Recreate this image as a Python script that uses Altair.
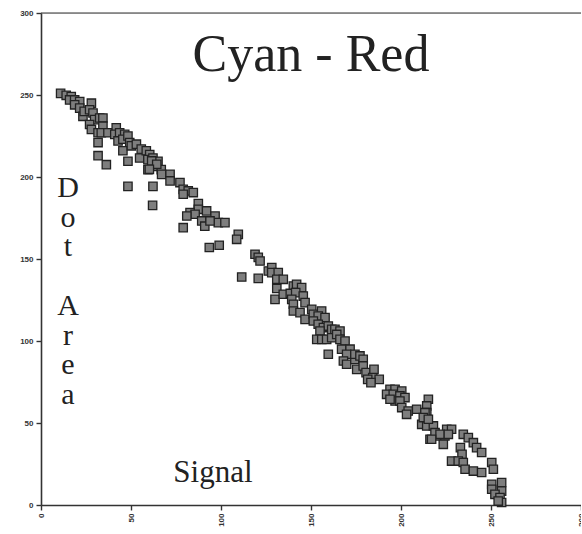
import altair as alt
import pandas as pd

signal = [10.9,14,16.8,15.9,18.7,21.5,18.7,21.5,23.3,24,28,27,28.9,29.8,27,28,32.6,34.4,34.4,31.7,33.5,37.2,31.7,31.7,36.3,
          41.8,41,43.7,42.8,46.5,45.5,48.3,49.3,45.5,48.3,50.2,53,55.7,54.8,58.5,60.4,59.4,62.2,65,63.2,59.4,66.8,48.3,62.2,
          61.5,64.3,60.2,67,71.7,71.7,77.2,79,81.8,84.6,79,62,87.4,87.4,82.8,85.6,81,92,89.3,91,96.7,98.5,102.2,93.9,79,
          109.6,108.7,93.5,99,118.9,120.7,121.7,126.3,111.5,120.7,
          128.2,128.2,131.8,131,134.6,131,130,134.6,140.2,142,144.8,138.5,141.5,145.7,139.3,140.2,146.7,140.2,143.9,146.7,
          150.4,151.3,155.9,154,157.8,151.3,154,156.9,159.6,161.5,163.3,166.1,155,153.2,156,158.7,161.5,164.3,166.1,168.9,
          159.6,167,171.7,169.8,168,169.8,174.4,175.4,
          174.4,177.2,179,179,180.6,185,184.3,187.9,181.5,183.3,193.9,196.7,192,195.7,200.4,199.4,202.2,196.7,193.9,199.4,
          200.4,204,208.7,203.1,215.2,214.3,214.3,214.3,211.5,214.3,218,216.1,220.7,224.4,225.4,
          213.3,212.4,215.2,218.9,221.7,228.1,226.3,217,223.5,234.6,237.4,240.2,242,244.8,233,233.9,228.1,231.8,234.6,235.6,
          240.2,244.8,250.4,251.3,250.4,250.4,255.9,255.9,252.2,255,255.9,254]
dot_area = [251,249.8,249,247,247,246,244,242,237,240,245,241,239,235,232,229,236,236,231,227,227,227,221,213,207.5,
            230,226,227,222,226,223,225,221,216,209.6,219,220,217,211.6,216,213.7,210.6,211.6,209.6,206.5,204.5,204.5,194.3,194.3,
            209.8,207.8,204.7,201.6,201.6,197.6,196.6,192.5,191.5,190.5,189.5,182.7,183.8,180.3,178.3,177.3,176.2,179.3,173.2,170,176.2,172.2,172.2,173.2,169.1,
            165,162,157,158.4,152.9,151,148.8,142.7,139,138.2,
            144.8,141.7,141.7,137.6,137.6,132,125.4,128.5,133.5,134.6,132.6,129,129.5,127.4,125.4,122.4,123.4,118.3,117.3,113.2,
            119.3,116.3,118.3,115.2,114.3,112.2,110.2,108.2,109.1,107.1,107.1,106.1,106.1,101,101,101,102,104,101,100,
            91.9,95,95,91.9,87.8,85.8,88.8,82.7,
            91.9,90.9,88.8,84.8,80.7,82.7,77.7,76.6,76.6,74.6,70.6,70.6,67.5,67.5,69.5,66.5,65.5,63.4,64.5,63.4,
            59.4,57.3,58.4,55.3,64.5,60.4,56.3,52.3,49.2,48.2,48.2,40.1,42.1,42.1,46.2,
            56.3,53.3,52.3,44.1,43.1,46.2,43.1,40.1,37,43.1,41.1,38,35,32,35,30.9,26.8,26.8,25.9,21.8,
            20.7,19.8,25.9,21.8,12.6,9.6,13.7,8.5,6.5,4.5,1.5,2.4]

ticks = [0, 50, 100, 150, 200, 250, 300]
title_text = "Cyan - Red"
x_label = "Signal"
y_label_letters = ["D", "o", "t", "A", "r", "e", "a"]
y_label_rows = [187.6, 169.6, 151.6, 115.7, 97.7, 79.7, 61.7]

df = pd.DataFrame({"signal": signal, "dot_area": dot_area})

xscale = alt.Scale(domain=[0, 300], nice=False, zero=False)
yscale = alt.Scale(domain=[0, 300], nice=False, zero=False)

axis_common = dict(
    values=ticks, grid=False, domainColor="#333", domainWidth=1.6, tickColor="#333",
    tickWidth=1.4, tickSize=5, labelFont="Liberation Sans", labelFontWeight="bold",
    labelFontSize=8, labelColor="#333", title=None,
)

points = alt.Chart(df).mark_point(
    shape="square", filled=True, size=70, fill="#7e7e7e", stroke="#222",
    strokeWidth=1.3, opacity=1,
).encode(
    x=alt.X("signal:Q", scale=xscale, axis=alt.Axis(labelAngle=270, labelAlign="right",
                                                    labelBaseline="middle", labelPadding=3, **axis_common)),
    y=alt.Y("dot_area:Q", scale=yscale, axis=alt.Axis(labelPadding=3, **axis_common)),
)

top_line = alt.Chart(pd.DataFrame({"y": [300]})).mark_rule(color="#333", strokeWidth=1.2).encode(
    y=alt.Y("y:Q", scale=yscale)
)

title_df = pd.DataFrame({"x": [150], "y": [264.5], "t": [title_text]})
title_mark = alt.Chart(title_df).mark_text(
    font="Liberation Serif", fontSize=52, color="#222", align="center", baseline="alphabetic"
).encode(x=alt.X("x:Q", scale=xscale), y=alt.Y("y:Q", scale=yscale), text="t:N")

xlab_df = pd.DataFrame({"x": [95.5], "y": [13.8], "t": [x_label]})
xlab_mark = alt.Chart(xlab_df).mark_text(
    font="Liberation Serif", fontSize=31, color="#222", align="center", baseline="alphabetic"
).encode(x=alt.X("x:Q", scale=xscale), y=alt.Y("y:Q", scale=yscale), text="t:N")

ylab_df = pd.DataFrame({"x": [15] * len(y_label_letters), "y": y_label_rows, "t": y_label_letters})
ylab_mark = alt.Chart(ylab_df).mark_text(
    font="Liberation Serif", fontSize=30, color="#222", align="center", baseline="alphabetic",
).encode(x=alt.X("x:Q", scale=xscale), y=alt.Y("y:Q", scale=yscale), text="t:N")

chart = alt.layer(top_line, points, title_mark, xlab_mark, ylab_mark).properties(
    width=540, height=492,
    autosize=alt.AutoSizeParams(type="none"),
    padding={"left": 41, "top": 13, "right": 0, "bottom": 28},
).configure_view(stroke=None).configure(background="white")

chart.save("out.html", embed_options={"renderer": "svg", "actions": False})
